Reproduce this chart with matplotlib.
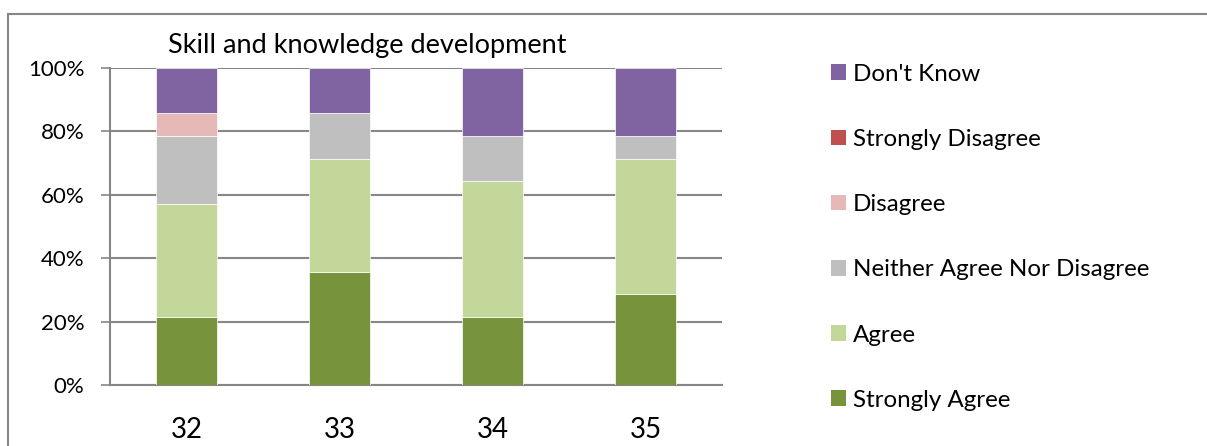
import numpy as np
import matplotlib.pyplot as plt
from matplotlib.lines import Line2D
from matplotlib.patches import Patch
from matplotlib.ticker import FuncFormatter

plt.rcParams["font.family"] = ["Lato", "DejaVu Sans"]

# ==== DANE ====
categories = ["32", "33", "34", "35"]
series_names = ["Strongly Agree", "Agree", "Neither Agree Nor Disagree",
                "Disagree", "Strongly Disagree", "Don't Know"]
strongly_agree = [3, 5, 3, 4]
agree = [5, 5, 6, 6]
neither = [3, 2, 2, 1]
disagree = [1, 0, 0, 0]
strongly_disagree = [0, 0, 0, 0]
dont_know = [2, 2, 3, 3]

colors = ["#77933C", "#C4D79B", "#BFBFBF", "#E6B9B8", "#C0504D", "#8064A2"]

data = np.array([strongly_agree, agree, neither, disagree,
                 strongly_disagree, dont_know], dtype=float)
shares = data / data.sum(axis=0)

# ==== RYSOWANIE ====
fig = plt.figure(figsize=(12.07, 4.46), dpi=100)
W, H = 1207, 446
ax = fig.add_axes([110 / W, 1 - 385 / H, 612 / W, 317 / H])

x = np.arange(len(categories))
bottom = np.zeros(len(categories))
for name, vals, col in zip(series_names, shares, colors):
    ax.bar(x, vals, 0.4, bottom=bottom, color=col, edgecolor="white",
           linewidth=0.5, zorder=3)
    bottom += vals

ax.set_xlim(-0.5, 3.5)
ax.set_ylim(0, 1)
ax.set_yticks(np.arange(0, 1.01, 0.2))
ax.yaxis.set_major_formatter(FuncFormatter(lambda v, _: f"{v * 100:.0f}%"))
ax.set_xticks(x)
ax.set_xticklabels(categories, fontsize=20)
ax.tick_params(axis="y", labelsize=16, length=6.5, width=1.2, color="#868686", pad=12)
ax.tick_params(axis="x", length=0, pad=23)
ax.grid(axis="y", color="#868686", linewidth=1.5, zorder=0)
for s in ["top", "right"]:
    ax.spines[s].set_visible(False)
for s in ["left", "bottom"]:
    ax.spines[s].set_color("#868686")
    ax.spines[s].set_linewidth(1.5)

fig.text(168 / W, 1 - 45 / H, "Skill and knowledge development",
         fontsize=19.5, va="center", ha="left")

# Legenda (od góry: Don't Know ... Strongly Agree)
handles = [Patch(facecolor=c, edgecolor="none") for c in colors[::-1]]
fig.legend(handles, series_names[::-1], loc="upper left",
           bbox_to_anchor=(821 / W, 1 - 54 / H), frameon=False,
           fontsize=17.4, handlelength=0.62, handleheight=0.62,
           handletextpad=0.3, labelspacing=1.83, borderaxespad=0)

# Ramka wykresu
fig.add_artist(Line2D([8 / W, 1], [1 - 14 / H] * 2, color="#868686", linewidth=1.5))
fig.add_artist(Line2D([8 / W] * 2, [0, 1 - 14 / H], color="#868686", linewidth=1.5))

fig.savefig("out.png", dpi=100)
